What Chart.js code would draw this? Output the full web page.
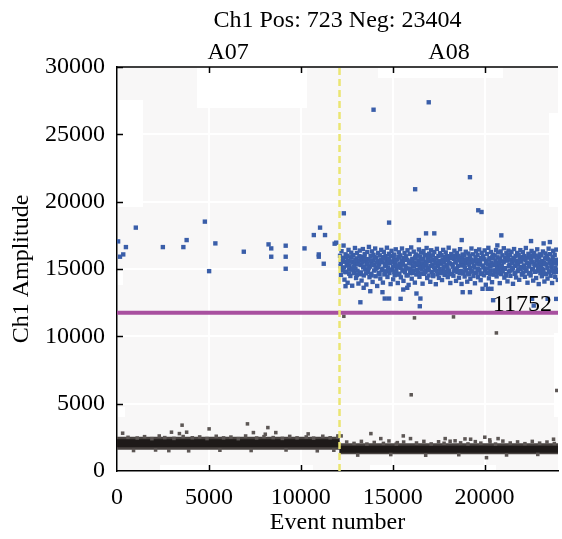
<!DOCTYPE html>
<html>
<head>
<meta charset="utf-8">
<script src="https://cdn.jsdelivr.net/npm/chart.js@4.4.1/dist/chart.umd.min.js"></script>
<style>
    body { margin: 0; background: #ffffff; }
    canvas { display: block; }
</style>
</head>
<body>
<canvas id="myChart" width="562" height="539"></canvas>
<script>
// testi
const chartTitle = 'Ch1 Pos: 723 Neg: 23404';
const wellLabels = ['A07', 'A08'];
const wellCenters = [6050, 18070];
const wellSplit = 12110;
const threshold = 11752;
const xTicks = [0, 5000, 10000, 15000, 20000];
const yTicks = [0, 5000, 10000, 15000, 20000, 25000, 30000];

// banda dei negativi (mediana)
const a07Band = [[0, 2060], [12110, 2060]];
const a08Band = [[12110, 1610], [24000, 1610]];

// positivi A07
const a07Pos = [
    [1024, 18072], [485, 16627], [340, 16083], [162, 15912], [60, 17050], [2496, 16627], [3612, 16627],
    [3790, 17148], [4782, 18518], [5353, 16902], [5013, 14840], [6900, 16284], [8248, 16828],
    [8394, 16530], [8394, 15912], [9181, 16731], [9181, 15912], [9181, 15019], [10205, 16530],
    [10712, 17520], [11051, 18072], [11321, 17520], [10981, 16083], [10981, 15912], [11251, 15391],
    [11844, 16880], [11930, 16955]
];

// positivi A08: fuori dal nucleo
const a08PosOut = [
    [13962, 26828], [16965, 27380], [19208, 21817], [16226, 20923], [19660, 19360], [19838, 19233],
    [12345, 19136], [14808, 18444], [16819, 17647], [17267, 17647], [20916, 17498], [18760, 17148],
    [16425, 17148], [22533, 17074], [20700, 16753], [23218, 16902], [23558, 17000],
    [13245, 12530], [14808, 12807], [14571, 12807], [16512, 12807], [16479, 12234], [15434, 12785],
    [14447, 13276], [16297, 13180], [18814, 13276], [19208, 13276], [19892, 13530], [20178, 13530],
    [20377, 13530], [20469, 12681], [22679, 12286], [22588, 12785], [23434, 12785], [23900, 12780],
    [12437, 13723], [13423, 13604], [13784, 13351], [15579, 13477], [15795, 13604]
];

// positivi A08: nucleo
const a08PosCore = [
    [12140,15980],[12170,15210],[12190,14560],[12220,16320],[12240,15600],[12270,14890],[12300,15830],[12330,16740],[12350,15120],[12380,14210],
    [12410,15540],[12440,16090],[12460,14760],[12500,15330],[12520,15980],[12550,13980],[12580,15610],[12600,16420],[12630,14950],[12660,15260],
    [12700,14480],[12720,15870],[12750,16210],[12780,15040],[12800,13760],[12840,15510],[12860,16030],[12890,14690],[12920,15390],[12950,16560],
    [12980,15020],[13010,14330],[13030,15790],[13060,16180],[13090,14870],[13120,15460],[13140,13920],[13170,15640],[13210,16370],[13230,14610],
    [13260,15290],[13290,15910],[13310,14140],[13340,15700],[13380,16480],[13400,15120],[13430,14520],[13460,15850],[13480,16100],[13510,14980],
    [13540,15560],[13570,13850],[13600,15320],[13620,16260],[13650,14770],[13690,15730],[13710,16640],[13740,14390],[13770,15180],[13800,15960],
    [13820,14650],[13850,15410],[13880,16310],[13910,14040],[13940,15620],[13960,16050],[13990,14880],[14020,15300],[14050,16520],[14080,14460],
    [14100,15840],[14130,15090],[14160,13740],[14190,15580],[14210,16190],[14240,14720],[14270,15380],[14300,16010],[14330,14290],[14350,15700],
    [14380,16420],[14410,14930],[14440,15500],[14470,13990],[14490,15880],[14520,16270],[14550,14600],[14580,15240],[14610,15950],[14630,14830],
    [14660,15660],[14690,16580],[14720,14410],[14750,15120],[14780,15790],[14800,16130],[14830,14700],[14860,15450],[14890,13880],[14910,15980],
    [14940,16350],[14970,14960],[15000,15560],[15030,14230],[15060,15830],[15080,16070],[15110,14540],[15140,15290],[15170,16460],[15200,14850],
    [15230,15700],[15250,15140],[15280,13960],[15310,15900],[15340,16240],[15370,14650],[15390,15370],[15420,16010],[15450,14380],[15480,15620],
    [15510,16520],[15530,14900],[15560,15480],[15590,14120],[15620,15810],[15650,16180],[15670,14760],[15700,15240],[15730,15940],[15760,14520],
    [15790,15680],[15810,16390],[15840,15030],[15870,13820],[15900,15560],[15930,16120],[15950,14690],[15980,15410],[16010,16600],[16040,14280],
    [16070,15760],[16090,15180],[16120,14850],[16150,16290],[16180,15490],[16210,13990],[16230,15860],[16260,16080],[16290,14590],[16320,15310],
    [16350,15990],[16370,14730],[16400,15620],[16430,16450],[16460,14420],[16490,15150],[16510,15880],[16540,16210],[16570,14960],[16600,15420],
    [16630,13910],[16650,15740],[16680,16330],[16710,14640],[16740,15270],[16770,16040],[16790,14870],[16820,15550],[16850,16560],[16880,14330],
    [16910,15830],[16930,15080],[16960,14520],[16990,16140],[17020,15600],[17050,14050],[17070,15920],[17100,16390],[17130,14780],[17160,15330],
    [17190,16010],[17210,14470],[17240,15690],[17270,16260],[17300,14920],[17330,15460],[17350,13870],[17380,15800],[17410,16500],[17440,14610],
    [17470,15220],[17490,15960],[17520,14340],[17550,15580],[17580,16170],[17610,14830],[17630,15390],[17660,16030],[17690,14180],[17720,15720],
    [17750,16420],[17770,14990],[17800,15530],[17830,14560],[17860,15890],[17890,16230],[17910,14720],[17940,15280],[17970,15950],[18000,14400],
    [18030,15660],[18050,16580],[18080,14880],[18110,15410],[18140,13960],[18170,15820],[18190,16110],[18220,14630],[18250,15350],[18280,16000],
    [18310,14500],[18330,15750],[18360,16360],[18390,14950],[18420,15480],[18450,14120],[18470,15910],[18500,16190],[18530,14780],[18560,15240],
    [18590,15970],[18610,14350],[18640,15630],[18670,16470],[18700,14860],[18730,15380],[18750,13890],[18780,15840],[18810,16080],[18840,14670],
    [18870,15290],[18890,16000],[18920,14440],[18950,15570],[18980,16280],[19010,14930],[19030,15450],[19060,14060],[19090,15760],[19120,16150],
    [19150,14600],[19170,15320],[19200,15980],[19230,14270],[19260,15700],[19290,16520],[19310,14810],[19340,15510],[19370,16090],[19400,14480],
    [19430,15630],[19450,15100],[19480,13940],[19510,15870],[19540,16330],[19570,14720],[19590,15400],[19620,16040],[19650,14390],[19680,15680],
    [19710,16450],[19730,14920],[19760,15520],[19790,14170],[19820,15830],[19850,16200],[19870,14650],[19900,15260],[19930,15940],[19960,14530],
    [19990,15720],[20010,16380],[20040,15010],[20070,13830],[20100,15590],[20130,16110],[20150,14700],[20180,15350],[20210,16570],[20240,14310],
    [20270,15800],[20290,15170],[20320,14860],[20350,16260],[20380,15480],[20410,14020],[20430,15900],[20460,16060],[20490,14580],[20520,15300],
    [20550,16000],[20570,14760],[20600,15640],[20630,16410],[20660,14450],[20690,15180],[20710,15870],[20740,16230],[20770,14940],[20800,15440],
    [20830,13950],[20850,15780],[20880,16300],[20910,14620],[20940,15250],[20970,16020],[20990,14890],[21020,15570],[21050,16540],[21080,14360],
    [21110,15850],[21130,15060],[21160,14510],[21190,16170],[21220,15620],[21250,14080],[21270,15940],[21300,16360],[21330,14800],[21360,15310],
    [21390,16030],[21410,14490],[21440,15700],[21470,16280],[21500,14950],[21530,15470],[21550,13900],[21580,15820],[21610,16480],[21640,14640],
    [21670,15230],[21690,15970],[21720,14370],[21750,15600],[21780,16190],[21810,14850],[21830,15360],[21860,16050],[21890,14200],[21920,15740],
    [21950,16400],[21970,15000],[22000,15550],[22030,14580],[22060,15880],[22090,16250],[22110,14740],[22140,15270],[22170,15960],[22200,14420],
    [22230,15650],[22250,16560],[22280,14900],[22310,15430],[22340,13980],[22370,15840],[22390,16130],[22420,14660],[22450,15370],[22480,16010],
    [22510,14520],[22530,15770],[22560,16340],[22590,14970],[22620,15500],[22650,14140],[22670,15920],[22700,16200],[22730,14790],[22760,15260],
    [22790,15990],[22810,14330],[22840,15650],[22870,16460],[22900,14880],[22930,15400],[22950,13880],[22980,15850],[23010,16090],[23040,14690],
    [23070,15310],[23090,16020],[23120,14460],[23150,15580],[23180,16300],[23210,14940],[23230,15470],[23260,14070],[23290,15780],[23320,16160],
    [23350,14620],[23370,15340],[23400,15990],[23430,14290],[23460,15720],[23490,16510],[23510,14830],[23540,15530],[23570,16100],[23600,14500],
    [23630,15640],[23650,15120],[23680,13960],[23710,15890],[23740,16350],[23770,14740],[23790,15420],[23820,16050],[23850,14410],[23880,15690],
    [23910,16440],[23930,14940],[23960,15540],[23990,14190]
];

// positivi A08: parte piu densa del nucleo
const a08PosDense = [
    [12180,15450],[12260,15050],[12310,15700],[12420,14800],[12490,15900],[12570,15250],[12640,14650],[12690,15550],[12770,15850],[12830,14950],
    [12910,15150],[12970,15650],[13050,14550],[13110,15350],[13190,15950],[13280,14750],[13350,15480],[13420,15180],[13500,15760],[13560,14680],
    [13640,15420],[13700,15050],[13790,15640],[13860,14520],[13930,15300],[14010,15880],[14070,14980],[14150,15490],[14230,15160],[14290,14620],
    [14370,15560],[14450,15020],[14510,15790],[14590,14720],[14650,15380],[14740,15020],[14810,15680],[14880,14910],[14950,15500],[15020,15180],
    [15090,14760],[15160,15600],[15240,15270],[15300,14580],[15380,15850],[15440,15090],[15520,15330],[15600,14880],[15660,15720],[15740,15090],
    [15820,14540],[15890,15460],[15960,15010],[16030,15630],[16110,14700],[16170,15200],[16250,15790],[16330,14930],[16390,15410],[16470,15080],
    [16530,14660],[16610,15700],[16690,15140],[16760,14790],[16840,15380],[16900,15920],[16980,14900],[17060,15230],[17120,15640],[17200,14560],
    [17260,15130],[17340,15790],[17400,14850],[17480,15490],[17560,15020],[17620,14690],[17700,15560],[17780,15200],[17840,14770],[17920,15680],
    [17990,15050],[18060,15420],[18130,14620],[18210,15860],[18270,15170],[18350,14830],[18430,15530],[18490,15040],[18570,15780],[18650,14700],
    [18720,15260],[18790,15600],[18860,14820],[18930,15120],[19000,15700],[19080,14680],[19140,15450],[19220,15060],[19280,14810],[19360,15580],
    [19420,15230],[19500,14730],[19580,15640],[19640,15000],[19720,15330],[19800,14660],[19860,15780],[19940,15120],[20020,14870],[20080,15460],
    [20160,15030],[20230,15690],[20310,14640],[20370,15250],[20450,15820],[20530,14900],[20590,15370],[20670,15040],[20750,14720],[20820,15610],
    [20890,15160],[20960,14820],[21040,15500],[21100,15010],[21180,14620],[21260,15740],[21320,15220],[21400,14880],[21470,15430],[21540,15090],
    [21620,15660],[21680,14730],[21760,15320],[21840,14980],[21900,15580],[21980,15140],[22050,14640],[22120,15760],[22190,15060],[22270,14850],
    [22330,15470],[22410,15180],[22490,14700],[22550,15600],[22630,15020],[22710,15370],[22780,14800],[22850,15710],[22920,15130],[23000,14910],
    [23060,15540],[23140,15020],[23200,14690],[23280,15380],[23360,15820],[23420,15090],[23500,14760],[23580,15450],[23640,15240],[23720,14870],
    [23800,15620],[23860,15100],[23940,14780],[23980,15400]
];

// negativi sparsi
const negOut = [
    [307, 2807], [3542, 3403], [2965, 2882], [3396, 2777], [3790, 2882], [5013, 3127], [7100, 3500],
    [7423, 2852], [8210, 3224], [8070, 2733], [8642, 2852], [10404, 2755], [2819, 1512], [12022, 2606],
    [13817, 2777], [14356, 2405], [15580, 2606], [15973, 2405], [15256, 2107], [17860, 2405], [18129, 2211],
    [18938, 2383], [19245, 2360], [20016, 2509], [20286, 2308], [20739, 2405], [20108, 990], [23757, 2360],
    [12199, 2606], [12022, 2509],
    [12345, 11490], [16189, 11370], [18313, 11444], [20647, 10253], [23935, 5979], [16011, 5659]
];

// bordi della banda
const negFringe = [
    [600,2500],[1100,2450],[1500,2550],[1900,2400],[2300,2600],[2600,2480],[3100,2420],[3600,2560],[4100,2470],
    [4500,2530],[4900,2410],[5400,2580],[5800,2460],[6200,2520],[6600,2400],[7000,2600],[7600,2450],[8000,2550],
    [8500,2480],[9000,2420],[9400,2570],[9800,2460],[10300,2530],[10700,2440],[11200,2580],[11600,2470],
    [900,1520],[2100,1560],[3900,1500],[5600,1540],[7300,1520],[9200,1560],[10900,1500],[11800,1540],
    [12500,2150],[12900,2050],[13300,2200],[13600,2000],[14000,2120],[14500,2050],[14800,2230],[15200,2000],
    [15600,2150],[16300,2080],[16700,2200],[17100,2010],[17500,2170],[17800,2060],[18400,2240],[18700,2090],
    [19100,2010],[19500,2180],[19800,2070],[20300,2150],[20600,2000],[21000,2220],[21400,2080],[21800,2160],
    [22200,2030],[22600,2200],[23000,2070],[23400,2150],[23800,2040],
    [13100,1180],[14900,1220],[16800,1170],[18600,1210],[21200,1190],[22900,1230]
];

function toXY(arr) {
    return arr.map(p => ({ x: p[0], y: p[1] }));
}

const FONT = 'Liberation Serif';
const FSIZE = 24;

// sfondo, riquadri bianchi, tacche interne e testi sopra
const plotDecor = {
    id: 'plotDecor',
    beforeDraw(chart) {
        const { ctx, chartArea: a } = chart;
        ctx.save();
        ctx.fillStyle = '#f8f7f7';
        ctx.fillRect(a.left, a.top, a.right - a.left, a.bottom - a.top);
        ctx.fillStyle = '#ffffff';
        const patches = [
            [197, 67, 110, 41], [378, 67, 125, 11], [117, 100, 26, 107], [549, 113, 13, 94],
            [117, 268, 6, 17], [554, 333, 8, 84], [160, 465, 153, 6], [370, 465, 126, 6], [117, 407, 8, 10]
        ];
        patches.forEach(r => ctx.fillRect(r[0], r[1], r[2], r[3]));
        ctx.restore();
    },
    afterDraw(chart) {
        const { ctx, chartArea: a } = chart;
        const xs = chart.scales.x;
        const ys = chart.scales.y;
        ctx.save();
        ctx.strokeStyle = '#000000';
        ctx.lineWidth = 1.5;
        ctx.beginPath();
        ctx.moveTo(a.left, a.top);
        ctx.lineTo(a.right, a.top);
        xTicks.forEach(v => {
            const px = Math.round(xs.getPixelForValue(v)) + 0.5;
            if (v === 0) return;
            ctx.moveTo(px, a.bottom);
            ctx.lineTo(px, a.bottom - 6);
            ctx.moveTo(px, a.top);
            ctx.lineTo(px, a.top + 6);
        });
        yTicks.forEach(v => {
            const py = Math.round(ys.getPixelForValue(v)) + 0.5;
            if (v === 0) return;
            ctx.moveTo(a.left, py);
            ctx.lineTo(a.left + 6, py);
        });
        ctx.stroke();

        ctx.fillStyle = '#000000';
        ctx.font = FSIZE + 'px "' + FONT + '"';
        ctx.textAlign = 'center';
        ctx.textBaseline = 'alphabetic';
        ctx.fillText(chartTitle, (a.left + a.right) / 2, 27);
        wellLabels.forEach((w, i) => {
            ctx.fillText(w, xs.getPixelForValue(wellCenters[i]), 59);
        });
        ctx.textAlign = 'left';
        ctx.fillText(String(threshold), xs.getPixelForValue(20450), ys.getPixelForValue(threshold) - 2);
        ctx.restore();
    }
};

const ctx = document.getElementById('myChart').getContext('2d');
const myChart = new Chart(ctx, {
    type: 'scatter',
    data: {
        datasets: [
            {
                label: 'separatore',
                data: [{ x: wellSplit, y: 0 }, { x: wellSplit, y: 30000 }],
                showLine: true,
                borderColor: '#ebe672',
                borderWidth: 2.5,
                borderDash: [7, 4],
                pointRadius: 0,
                order: 0
            },
            {
                label: 'soglia',
                data: [{ x: 0, y: threshold }, { x: 24000, y: threshold }],
                showLine: true,
                borderColor: '#a8509f',
                borderWidth: 4,
                pointRadius: 0,
                order: 1
            },
            {
                label: 'positivi',
                data: toXY(a07Pos.concat(a08PosOut, a08PosCore, a08PosDense)),
                pointStyle: 'rect',
                pointRadius: 3.1,
                pointBorderWidth: 0,
                backgroundColor: '#3a5ea9',
                borderColor: '#3a5ea9',
                order: 2
            },
            {
                label: 'negativi sparsi',
                data: toXY(negOut.concat(negFringe)),
                pointStyle: 'rect',
                pointRadius: 2.5,
                pointBorderWidth: 0,
                backgroundColor: '#5d5755',
                borderColor: '#5d5755',
                order: 3
            },
            {
                label: 'banda A07',
                data: toXY(a07Band),
                showLine: true,
                borderColor: '#1e1a19',
                borderWidth: 8,
                pointRadius: 0,
                order: 4
            },
            {
                label: 'banda A08',
                data: toXY(a08Band),
                showLine: true,
                borderColor: '#1e1a19',
                borderWidth: 7,
                pointRadius: 0,
                order: 4
            },
            {
                label: 'alone A07',
                data: toXY(a07Band),
                showLine: true,
                borderColor: '#4a4442',
                borderWidth: 13,
                pointRadius: 0,
                order: 5
            },
            {
                label: 'alone A08',
                data: toXY(a08Band.map(p => [p[0], p[1] + 40])),
                showLine: true,
                borderColor: '#4a4442',
                borderWidth: 11,
                pointRadius: 0,
                order: 5
            }
        ]
    },
    options: {
        responsive: false,
        devicePixelRatio: 1,
        animation: false,
        layout: { padding: { top: 67, left: 0, right: 0, bottom: 0 } },
        plugins: {
            legend: { display: false },
            tooltip: { enabled: false }
        },
        scales: {
            x: {
                type: 'linear',
                min: 0,
                max: 24000,
                afterBuildTicks: (s) => { s.ticks = xTicks.map(v => ({ value: v })); },
                afterFit: (s) => { s.height = 68; },
                grid: { color: '#ffffff', lineWidth: 2, drawTicks: false },
                border: { display: true, color: '#000000', width: 1.5 },
                ticks: {
                    color: '#000000',
                    padding: 12,
                    maxRotation: 0,
                    callback: (v) => String(v),
                    font: { family: FONT, size: FSIZE }
                },
                title: {
                    display: true,
                    text: 'Event number',
                    color: '#000000',
                    padding: { top: 0, bottom: 2 },
                    font: { family: FONT, size: FSIZE }
                }
            },
            y: {
                type: 'linear',
                min: 0,
                max: 30000,
                afterBuildTicks: (s) => { s.ticks = yTicks.map(v => ({ value: v })); },
                afterFit: (s) => { s.width = 117; },
                grid: { color: '#ffffff', lineWidth: 2, drawTicks: false },
                border: { display: true, color: '#000000', width: 1.5 },
                ticks: {
                    color: '#000000',
                    padding: 12,
                    callback: (v) => String(v),
                    font: { family: FONT, size: FSIZE }
                },
                title: {
                    display: true,
                    text: 'Ch1 Amplitude',
                    color: '#000000',
                    padding: { top: 7, bottom: 0 },
                    font: { family: FONT, size: FSIZE }
                }
            }
        }
    },
    plugins: [plotDecor]
});
</script>
</body>
</html>
